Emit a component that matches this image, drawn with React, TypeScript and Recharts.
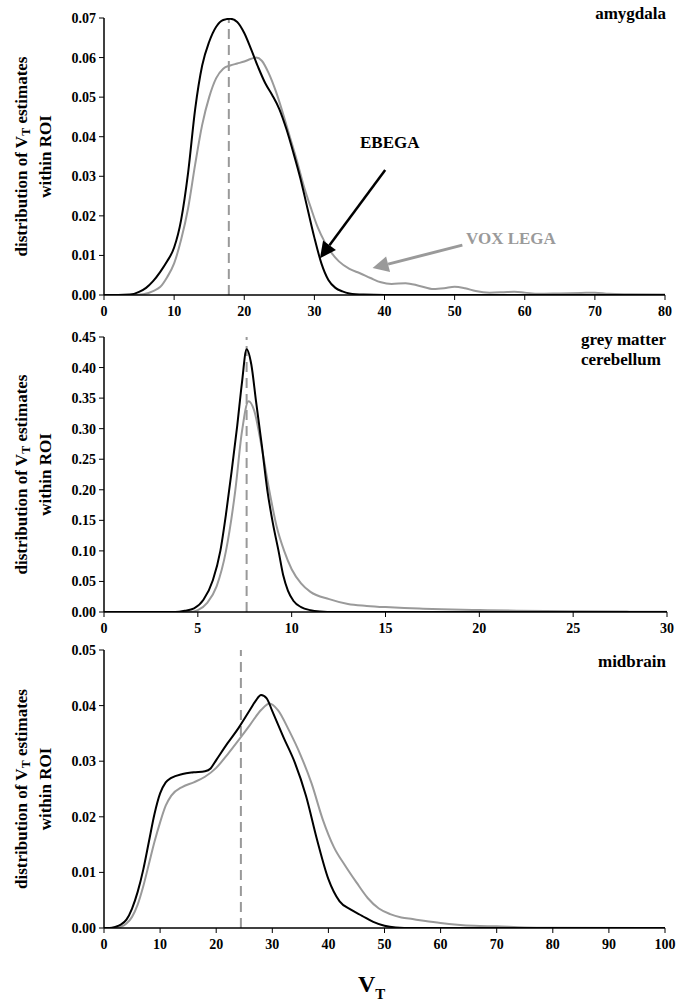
import { LineChart, Line, XAxis, YAxis, ReferenceLine } from 'recharts'

const SERIF = '"Liberation Serif", "Times New Roman", serif'
const BLACK = '#000000'
const GREY = '#9a9a9a'

// amygdala – [VT, density]
const amygdalaEbega: [number, number][] = [
  [0, 0], [2, 0], [3.7, 0.0001], [5, 0.0008], [6, 0.0018], [7, 0.0035], [8, 0.0058],
  [9, 0.0085], [10, 0.012], [11, 0.019], [12, 0.031], [13, 0.047], [14, 0.058],
  [15, 0.064], [16, 0.0678], [17, 0.0695], [18, 0.0698], [19, 0.069], [20, 0.0662],
  [21, 0.062], [22, 0.0575], [23, 0.0535], [24, 0.0505], [25, 0.047], [26, 0.042],
  [27, 0.036], [28, 0.0295], [29, 0.022], [30, 0.0145], [31, 0.008], [32, 0.0038],
  [33, 0.0018], [34, 0.0009], [35, 0.0004], [37, 0.0001], [40, 0], [80, 0],
]
const amygdalaVox: [number, number][] = [
  [0, 0], [4, 0], [5.6, 0.0002], [7, 0.001], [8, 0.002], [9, 0.0045], [10, 0.008],
  [11, 0.014], [12, 0.022], [13, 0.033], [14, 0.043], [15, 0.05], [16, 0.0548],
  [17, 0.0572], [18, 0.058], [19, 0.0585], [20, 0.059], [21, 0.0597], [21.7, 0.06],
  [22.5, 0.0592], [23.5, 0.056], [24.5, 0.0515], [25.5, 0.046], [26.5, 0.04],
  [27.5, 0.034], [28.5, 0.0275], [29.5, 0.022], [30.5, 0.017], [31.5, 0.0133],
  [32.5, 0.0105], [33.5, 0.0085], [35, 0.0066], [36.5, 0.0055], [38, 0.0043],
  [39.5, 0.0032], [41, 0.0028], [43, 0.003], [45, 0.0023], [47, 0.0015], [48.5, 0.0017],
  [50, 0.0021], [51.5, 0.0017], [53, 0.001], [55, 0.0006], [57, 0.0007], [58.5, 0.0008],
  [60, 0.0006], [62, 0.0003], [65, 0.0004], [68, 0.0005], [70, 0.0006], [72, 0.0003],
  [75, 0.0002], [80, 0.0001],
]

// grey matter cerebellum
const cerebEbega: [number, number][] = [
  [0, 0], [3.8, 0], [4.3, 0.002], [4.8, 0.006], [5.3, 0.02], [5.8, 0.052], [6.2, 0.1],
  [6.5, 0.16], [6.8, 0.23], [7.1, 0.305], [7.35, 0.375], [7.6, 0.43], [7.85, 0.405],
  [8.1, 0.345], [8.4, 0.275], [8.7, 0.2], [9.0, 0.145], [9.3, 0.1], [9.55, 0.06],
  [9.8, 0.035], [10.1, 0.018], [10.5, 0.008], [11, 0.003], [11.5, 0.001], [12.3, 0], [30, 0],
]
const cerebVox: [number, number][] = [
  [0, 0], [4.6, 0], [5, 0.003], [5.5, 0.015], [6, 0.042], [6.5, 0.1], [7, 0.2],
  [7.35, 0.295], [7.7, 0.345], [8, 0.33], [8.4, 0.27], [8.8, 0.2], [9.2, 0.14],
  [9.6, 0.1], [10, 0.07], [10.5, 0.047], [11, 0.033], [12, 0.021], [13, 0.013],
  [14, 0.01], [15, 0.008], [16, 0.0065], [17, 0.0055], [18, 0.0045], [20, 0.0032],
  [22, 0.0022], [25, 0.0012], [28, 0.0006], [30, 0.0003],
]

// midbrain
const midEbega: [number, number][] = [
  [0, 0], [1, 0], [2, 0.0002], [3, 0.0006], [4, 0.0015], [5, 0.0035], [6, 0.0065],
  [7, 0.0105], [8, 0.0155], [9, 0.0205], [10, 0.0242], [11, 0.0262], [12, 0.027],
  [14, 0.0277], [16, 0.028], [18, 0.0282], [19, 0.0287], [20, 0.0302], [22, 0.0332],
  [24, 0.036], [26, 0.0392], [27, 0.0408], [28, 0.0419], [29, 0.0413], [30, 0.039],
  [32, 0.0343], [34, 0.0298], [36, 0.0238], [38, 0.0158], [40, 0.0088], [42, 0.0048],
  [44, 0.0033], [46, 0.0022], [48, 0.0011], [50, 0.0004], [52, 0.0001], [55, 0], [100, 0],
]
const midVox: [number, number][] = [
  [0, 0], [2, 0], [3, 0.0002], [4, 0.0008], [5, 0.002], [6, 0.0042], [7, 0.0075],
  [8, 0.0115], [9, 0.0155], [10, 0.019], [11, 0.022], [12, 0.0238], [14, 0.0254],
  [16, 0.0262], [18, 0.0272], [20, 0.0288], [22, 0.0312], [24, 0.0338], [26, 0.0365],
  [28, 0.0392], [29.5, 0.0404], [31, 0.0392], [33, 0.0355], [35, 0.0312], [37, 0.026],
  [39, 0.0195], [41, 0.0145], [43, 0.0112], [45, 0.0082], [47, 0.0054], [49, 0.0035],
  [51, 0.0025], [53, 0.0019], [55, 0.0016], [57, 0.0013], [60, 0.0009], [63, 0.0006],
  [66, 0.0004], [70, 0.0003], [75, 0.0001], [80, 0.00005], [100, 0],
]

const amygdalaXTicks = [0, 10, 20, 30, 40, 50, 60, 70, 80]
const amygdalaYTicks = [0, 0.01, 0.02, 0.03, 0.04, 0.05, 0.06, 0.07]
const cerebXTicks = [0, 5, 10, 15, 20, 25, 30]
const cerebYTicks = [0, 0.05, 0.1, 0.15, 0.2, 0.25, 0.3, 0.35, 0.4, 0.45]
const midXTicks = [0, 10, 20, 30, 40, 50, 60, 70, 80, 90, 100]
const midYTicks = [0, 0.01, 0.02, 0.03, 0.04, 0.05]

const amygdalaMedian = 17.8
const cerebMedian = 7.6
const midMedian = 24.4

const toPoints = (s: [number, number][]) => s.map(([x, y]) => ({ x, y }))

const tickStyle = { fontSize: 14, fontWeight: 700, fill: '#000', fontFamily: SERIF }

const Arrow = (props: any) => {
  const { x1, y1, x2, y2, color, width } = props
  if (x1 == null || x2 == null) return null
  const ang = Math.atan2(y2 - y1, x2 - x1)
  const len = 16
  const half = 8
  const bx = x2 - len * Math.cos(ang)
  const by = y2 - len * Math.sin(ang)
  const nx = -Math.sin(ang) * half
  const ny = Math.cos(ang) * half
  return (
    <g>
      <line x1={x1} y1={y1} x2={bx} y2={by} stroke={color} strokeWidth={width} />
      <polygon points={`${x2},${y2} ${bx + nx},${by + ny} ${bx - nx},${by - ny}`} fill={color} />
    </g>
  )
}

interface PanelProps {
  top: number
  height: number
  margin: { top: number; right: number; left: number; bottom: number }
  xAxisHeight: number
  ebega: [number, number][]
  vox: [number, number][]
  xMax: number
  xTicks: number[]
  yMax: number
  yTicks: number[]
  median: number
  children?: any
}

const Panel = (p: PanelProps) => (
  <div style={{ position: 'absolute', left: 0, top: p.top }}>
    <LineChart width={682} height={p.height} margin={p.margin}>
      <XAxis
        type="number"
        dataKey="x"
        domain={[0, p.xMax]}
        ticks={p.xTicks}
        height={p.xAxisHeight}
        tick={tickStyle}
        tickSize={5}
        tickMargin={6}
        axisLine={{ stroke: '#000', strokeWidth: 1.5 }}
        tickLine={{ stroke: '#000' }}
        allowDataOverflow
      />
      <YAxis
        type="number"
        domain={[0, p.yMax]}
        ticks={p.yTicks}
        width={104}
        tick={tickStyle}
        tickSize={5}
        tickMargin={3}
        tickFormatter={(v: number) => v.toFixed(2)}
        axisLine={{ stroke: '#000', strokeWidth: 1.5 }}
        tickLine={{ stroke: '#000' }}
        allowDataOverflow
      />
      <ReferenceLine x={p.median} stroke="#999" strokeWidth={2} strokeDasharray="10 6" />
      <Line
        data={toPoints(p.vox)}
        dataKey="y"
        type="monotone"
        stroke={GREY}
        strokeWidth={2}
        dot={false}
        isAnimationActive={false}
      />
      <Line
        data={toPoints(p.ebega)}
        dataKey="y"
        type="monotone"
        stroke={BLACK}
        strokeWidth={2}
        dot={false}
        isAnimationActive={false}
      />
      {p.children}
    </LineChart>
  </div>
)

const YTitle = ({ top, height }: { top: number; height: number }) => {
  const cy = height / 2
  return (
    <svg
      width={60}
      height={height}
      style={{ position: 'absolute', left: 0, top, overflow: 'visible' }}
    >
      <g fontFamily={SERIF} fontWeight={700} fontSize={17} fill="#000">
        <text x={21} y={cy} transform={`rotate(-90 21 ${cy})`} textAnchor="middle" dominantBaseline="central">
          distribution of V<tspan fontSize={12} dy={5}>T</tspan><tspan dy={-5}> estimates</tspan>
        </text>
        <text x={45} y={cy} transform={`rotate(-90 45 ${cy})`} textAnchor="middle" dominantBaseline="central">
          within ROI
        </text>
      </g>
    </svg>
  )
}

const labelStyle: any = {
  position: 'absolute',
  fontFamily: SERIF,
  fontWeight: 700,
  fontSize: 17,
  lineHeight: '20px',
  whiteSpace: 'nowrap',
}

export default function App() {
  return (
    <div
      style={{
        position: 'absolute',
        left: 0,
        top: 0,
        width: 682,
        height: 1007,
        background: '#fff',
        overflow: 'hidden',
      }}
    >
      <Panel
        top={0}
        height={320}
        margin={{ top: 18, right: 17, left: 0, bottom: 0 }}
        xAxisHeight={25}
        ebega={amygdalaEbega}
        vox={amygdalaVox}
        xMax={80}
        xTicks={amygdalaXTicks}
        yMax={0.07}
        yTicks={amygdalaYTicks}
        median={amygdalaMedian}
      >
        <ReferenceLine
          segment={[{ x: 40.1, y: 0.0316 }, { x: 30.8, y: 0.0093 }]}
          ifOverflow="visible"
          shape={(s: any) => <Arrow {...s} color="#000" width={2.5} />}
        />
        <ReferenceLine
          segment={[{ x: 51.1, y: 0.0126 }, { x: 38.3, y: 0.0068 }]}
          ifOverflow="visible"
          shape={(s: any) => <Arrow {...s} color={GREY} width={3} />}
        />
      </Panel>
      <Panel
        top={320}
        height={320}
        margin={{ top: 17, right: 15, left: 0, bottom: 0 }}
        xAxisHeight={28}
        ebega={cerebEbega}
        vox={cerebVox}
        xMax={30}
        xTicks={cerebXTicks}
        yMax={0.45}
        yTicks={cerebYTicks}
        median={cerebMedian}
      />
      <Panel
        top={640}
        height={320}
        margin={{ top: 10, right: 17, left: 0, bottom: 0 }}
        xAxisHeight={32}
        ebega={midEbega}
        vox={midVox}
        xMax={100}
        xTicks={midXTicks}
        yMax={0.05}
        yTicks={midYTicks}
        median={midMedian}
      />

      <YTitle top={18} height={277} />
      <YTitle top={337} height={275} />
      <YTitle top={650} height={278} />

      <div style={{ ...labelStyle, right: 16, top: 4 }}>amygdala</div>
      <div style={{ ...labelStyle, right: 16, top: 330, textAlign: 'left' }}>
        grey matter
        <br />
        cerebellum
      </div>
      <div style={{ ...labelStyle, right: 16, top: 652 }}>midbrain</div>

      <div style={{ ...labelStyle, left: 360, top: 133, color: '#000' }}>EBEGA</div>
      <div style={{ ...labelStyle, left: 466, top: 229, color: GREY }}>VOX LEGA</div>

      <div style={{ ...labelStyle, left: 358, top: 970, fontSize: 24, lineHeight: '28px' }}>
        V<span style={{ fontSize: 15, position: 'relative', top: 7 }}>T</span>
      </div>
    </div>
  )
}
